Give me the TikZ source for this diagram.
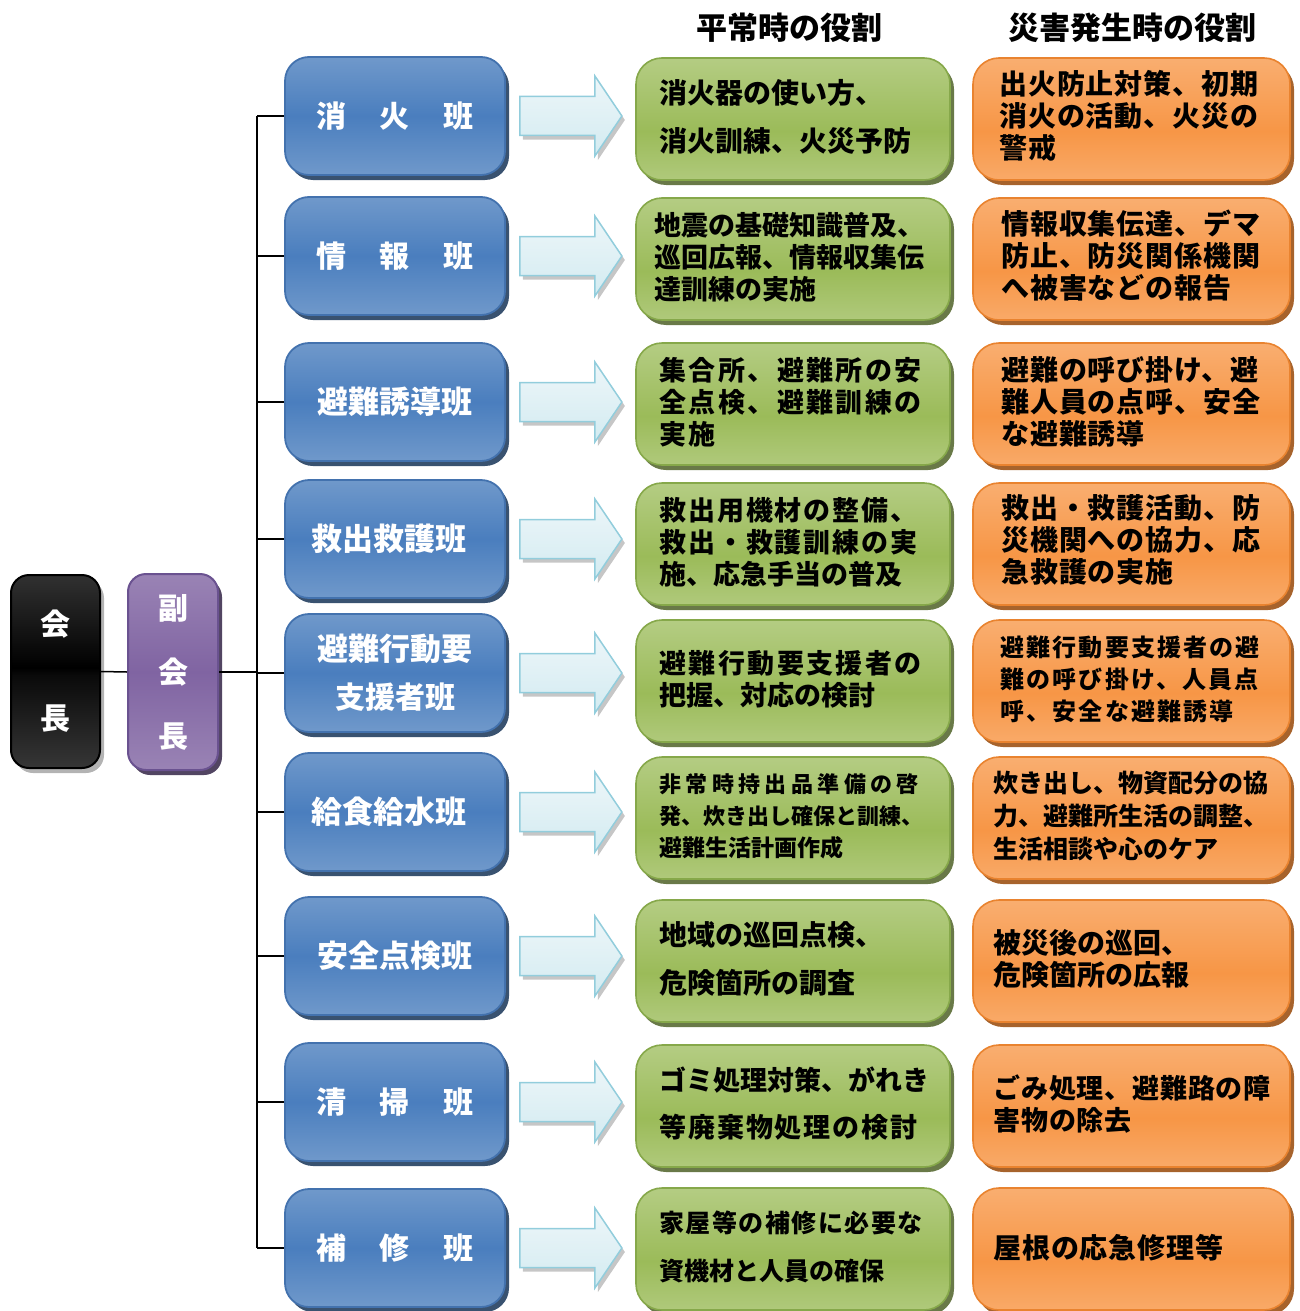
\documentclass[tikz,border=0pt]{standalone}
\usepackage{fontspec}
\newfontfamily\jp{Noto Sans CJK JP}
\usetikzlibrary{shadows,calc}
\definecolor{blueTop}{HTML}{95B3D7}
\definecolor{blueMid}{HTML}{4A7EBE}
\definecolor{blueBd}{HTML}{4372AE}
\definecolor{blueSh}{HTML}{243F60}
\definecolor{grTop}{HTML}{C9DBA6}
\definecolor{grMid}{HTML}{9BBB59}
\definecolor{grBd}{HTML}{86A84A}
\definecolor{grSh}{HTML}{4F6228}
\definecolor{orTop}{HTML}{FBC293}
\definecolor{orMid}{HTML}{F79646}
\definecolor{orBd}{HTML}{E9832F}
\definecolor{orSh}{HTML}{984807}
\definecolor{puTop}{HTML}{B3A2C7}
\definecolor{puMid}{HTML}{8064A2}
\definecolor{puBd}{HTML}{6A5290}
\definecolor{puSh}{HTML}{3F3151}
\definecolor{kTop}{HTML}{646464}
\definecolor{kMid}{HTML}{0A0A0A}
\definecolor{arTop}{HTML}{EDF6F9}
\definecolor{arBot}{HTML}{D3EBF1}
\definecolor{arBd}{HTML}{92CDDC}
\pgfdeclareverticalshading{blueshade}{100bp}{color(0bp)=(blueTop); color(50bp)=(blueMid); color(100bp)=(blueTop)}
\pgfdeclareverticalshading{grshade}{100bp}{color(0bp)=(grTop); color(45bp)=(grMid); color(100bp)=(grTop)}
\pgfdeclareverticalshading{orshade}{100bp}{color(0bp)=(orTop); color(45bp)=(orMid); color(100bp)=(orTop)}
\pgfdeclareverticalshading{pushade}{100bp}{color(0bp)=(puTop); color(50bp)=(puMid); color(100bp)=(puTop)}
\pgfdeclareverticalshading{kshade}{100bp}{color(0bp)=(kTop); color(49bp)=(kMid); color(51bp)=(black); color(100bp)=(kTop)}
\tikzset{
  conn/.style={draw=black, line width=1.5pt},
  hdr/.style={font=\jp\bfseries\fontsize{31}{31}\selectfont, inner sep=0pt},
  bl/.style={rounded corners=24pt, minimum width=220pt, minimum height=118pt,
    shading=blueshade, draw=blueBd, line width=1.8pt,
    drop shadow={shadow xshift=4pt,shadow yshift=-5pt,fill=blueSh,opacity=.9},
    text=white, font=\jp\bfseries\fontsize{30}{48}\selectfont, align=center, inner sep=0pt},
  gbox/.style={rounded corners=26pt, minimum width=314pt, minimum height=122pt,
    shading=grshade, draw=grBd, line width=1.6pt,
    drop shadow={shadow xshift=4pt,shadow yshift=-5pt,fill=grSh,opacity=.85}, inner sep=0pt},
  obox/.style={rounded corners=26pt, minimum width=317pt, minimum height=122pt,
    shading=orshade, draw=orBd, line width=1.6pt,
    drop shadow={shadow xshift=4pt,shadow yshift=-5pt,fill=orSh,opacity=.85}, inner sep=0pt},
  txt/.style={anchor=west, align=left, inner sep=0pt, text=black},
  arr/.style={draw=arBd, line width=1.5pt, top color=arTop, bottom color=arBot,
    drop shadow={shadow xshift=3pt,shadow yshift=-4pt,fill=gray,opacity=.45}},
  kbox/.style={rounded corners=18pt, minimum width=89pt, minimum height=193pt,
    shading=kshade, draw=black, line width=2pt,
    drop shadow={shadow xshift=4pt,shadow yshift=-5pt,fill=gray,opacity=.6},
    text=white, font=\jp\bfseries\fontsize{30}{94}\selectfont, align=center, inner sep=0pt},
  pbox/.style={rounded corners=18pt, minimum width=90pt, minimum height=196pt,
    shading=pushade, draw=puBd, line width=2pt,
    drop shadow={shadow xshift=4pt,shadow yshift=-5pt,fill=puSh,opacity=.9},
    text=white, font=\jp\bfseries\fontsize{30}{64}\selectfont, align=center, inner sep=0pt},
}
\newcommand\tfont[2]{\jp\bfseries\fontsize{#1}{#2}\selectfont}
\newcommand\ls[1]{\addfontfeature{LetterSpace=#1}}
\begin{document}
\begin{tikzpicture}[x=1pt,y=-1pt]
\useasboundingbox (0,0) rectangle (1300,1311);

% headers
\node[hdr] (h1) at (789,28) {平常時の役割};
\node[hdr] (h2) at (1132,28) {災害発生時の役割};

% chair and vice chair
\node[kbox] (kai) at (55.5,671.5) {会\\長};
\node[pbox] (fuku) at (173,672) {副\\会\\長};

% teams
\node[bl] (b1) at (395,116) {消\hspace{34pt}火\hspace{34pt}班};
\node[bl] (b2) at (395,256) {情\hspace{34pt}報\hspace{34pt}班};
\node[bl] (b3) at (395,402) {\fontsize{31}{48}\selectfont 避難誘導班};
\node[bl] (b4) at (395,539) {\fontsize{31}{48}\selectfont 救出救護班\hspace{12pt}};
\node[bl] (b5) at (395,673) {\fontsize{31}{48}\selectfont 避難行動要\\支援者班};
\node[bl] (b6) at (395,812) {\fontsize{31}{48}\selectfont 給食給水班\hspace{12pt}};
\node[bl] (b7) at (395,956) {\fontsize{31}{48}\selectfont 安全点検班};
\node[bl] (b8) at (395,1102) {清\hspace{34pt}掃\hspace{34pt}班};
\node[bl] (b9) at (395,1248) {補\hspace{34pt}修\hspace{34pt}班};

% connectors
\coordinate (sp) at (257,0);
\draw[conn] (b1.west -| sp) -- (b9.west -| sp);
\foreach \i in {1,...,9} \draw[conn] (b\i.west) -- (b\i.west -| sp);
\draw[conn] (kai.east) -- (fuku.west);
\draw[conn] (fuku.east) -- (fuku.east -| sp);

% green and orange boxes
\foreach \i/\y in {1/119,2/259,3/404,4/544,5/681,6/818,7/961,8/1106,9/1249}{
  \node[gbox] (g\i) at (793,\y) {};
  \node[obox] (o\i) at (1131.5,\y) {};
}

% block arrows
\foreach \i in {1,...,9}{
  \draw[arr] ($(b\i.east)+(14,-19.5)$) -- ++(75,0) -- ++(0,-20.5) -- ++(27,40)
     -- ++(-27,40) -- ++(0,-20.5) -- ++(-75,0) -- cycle;
}

% normal-time texts
\node[txt, font=\tfont{28}{48}] (gt1) at ($(g1.west)+(24,-2)$) {消火器の使い方、\\消火訓練、火災予防};
\node[txt, font=\tfont{27}{32}] (gt2) at ($(g2.west)+(19,-2)$) {地震の基礎知識普及、\\巡回広報、情報収集伝\\達訓練の実施};
\node[txt, font=\tfont{27}{32}\ls{9}] (gt3) at ($(g3.west)+(24,-2)$) {集合所、避難所の安\\全点検、避難訓練の\\実施};
\node[txt, font=\tfont{27}{32}] (gt4) at ($(g4.west)+(24,-2)$) {{\ls{7}救出用機材の整備、}\\{\ls{7}救出・救護訓練の実}\\施、応急手当の普及};
\node[txt, font=\tfont{27}{32}] (gt5) at ($(g5.west)+(24,-2)$) {{\ls{9}避難行動要支援者の}\\把握、対応の検討};
\node[txt, font=\tfont{22}{32}] (gt6) at ($(g6.west)+(24,-2)$) {{\ls{20}非常時持出品準備の啓}\\発、炊き出し確保と訓練、\\{\fontsize{23}{32}\selectfont 避難生活計画作成}};
\node[txt, font=\tfont{28}{48}] (gt7) at ($(g7.west)+(24,-2)$) {地域の巡回点検、\\危険箇所の調査};
\node[txt, font=\tfont{27}{47}] (gt8) at ($(g8.west)+(24,-2)$) {ゴミ処理対策、がれき\\{\ls{7}等廃棄物処理の検討}};
\node[txt, font=\tfont{25}{48}] (gt9) at ($(g9.west)+(24,-2)$) {{\ls{6}家屋等の補修に必要な}\\資機材と人員の確保};

% disaster-time texts
\node[txt, font=\tfont{28}{32}\ls{3}] (ot1) at ($(o1.west)+(27,-3)$) {出火防止対策、初期\\消火の活動、火災の\\警戒};
\node[txt, font=\tfont{28}{32}\ls{3}] (ot2) at ($(o2.west)+(29,-3)$) {情報収集伝達、デマ\\防止、防災関係機関\\へ被害などの報告};
\node[txt, font=\tfont{28}{32}\ls{3}] (ot3) at ($(o3.west)+(29,-2)$) {避難の呼び掛け、避\\難人員の点呼、安全\\な避難誘導};
\node[txt, font=\tfont{28}{32}\ls{3}] (ot4) at ($(o4.west)+(29,-4)$) {救出・救護活動、防\\災機関への協力、応\\急救護の実施};
\node[txt, font=\tfont{24}{32}\ls{9}] (ot5) at ($(o5.west)+(28,-2)$) {避難行動要支援者の避\\難の呼び掛け、人員点\\呼、安全な避難誘導};
\node[txt, font=\tfont{25}{33}] (ot6) at ($(o6.west)+(21,-2)$) {炊き出し、物資配分の協\\力、避難所生活の調整、\\生活相談や心のケア};
\node[txt, font=\tfont{28}{32}] (ot7) at ($(o7.west)+(21,-2)$) {被災後の巡回、\\危険箇所の広報};
\node[txt, font=\tfont{27}{32}\ls{3}] (ot8) at ($(o8.west)+(21,-2)$) {ごみ処理、避難路の障\\害物の除去};
\node[txt, font=\tfont{28}{32}\ls{3}] (ot9) at ($(o9.west)+(21,-1)$) {屋根の応急修理等};
\end{tikzpicture}
\end{document}
